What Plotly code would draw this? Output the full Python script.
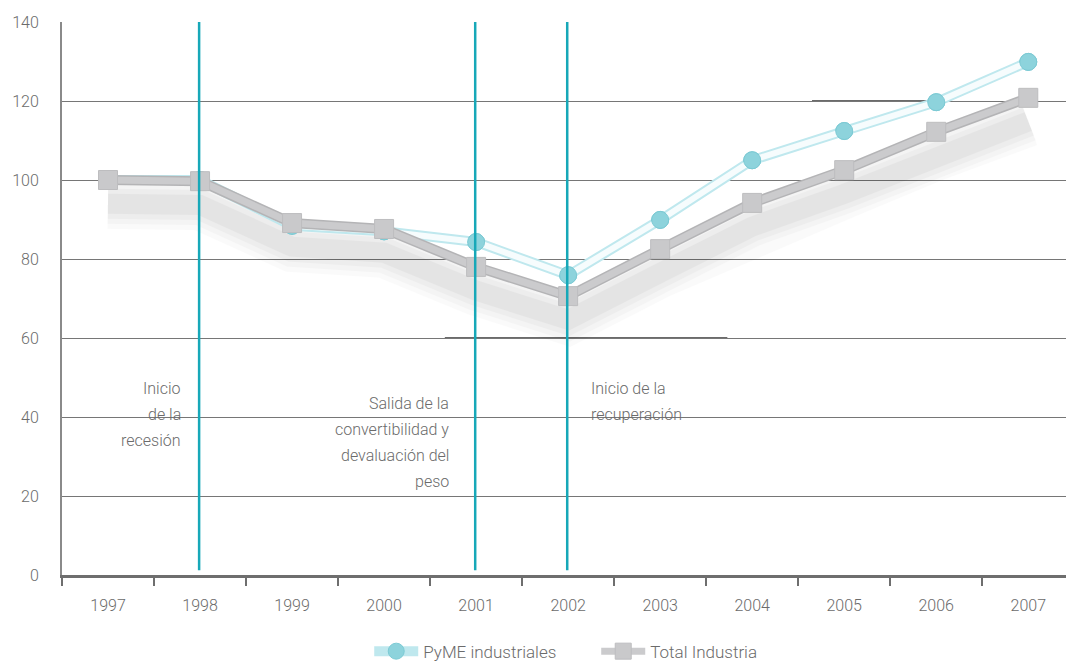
import plotly.graph_objects as go

years = ["1997", "1998", "1999", "2000", "2001", "2002", "2003", "2004", "2005", "2006", "2007"]
pyme = [100, 100, 88.4, 87, 84.3, 75.9, 89.9, 105, 112.4, 119.7, 129.9]
total = [100, 99.7, 89.1, 87.6, 78, 70.6, 82.5, 94.2, 102.5, 112.2, 120.8]

y_ticks = [0, 20, 40, 60, 80, 100, 120, 140]
events = ["1998", "2001", "2002"]

FONT = "Roboto, Arial, sans-serif"
GREY_TXT = "#6b6b6b"
TEAL = "#17a8b8"
PYME_MARK = dict(symbol="circle", size=17, color="#8dd3dc", line=dict(color="#7ccad4", width=1))

fig = go.Figure()

# soft drop shadow under the total-industry line
shadow = [v - 6 for v in total]
for w, op in [(50, 0.015), (40, 0.02), (30, 0.025), (20, 0.03)]:
    fig.add_trace(go.Scatter(
        x=years, y=shadow, mode="lines", line=dict(color="#000000", width=w),
        opacity=op, hoverinfo="skip", showlegend=False))

# PyME industriales: pale cyan tube with a white core and cyan markers
fig.add_trace(go.Scatter(
    x=years, y=pyme, mode="lines+markers", name="PyME industriales",
    line=dict(color="#bfe8ee", width=10), marker=PYME_MARK))
fig.add_trace(go.Scatter(
    x=years, y=pyme, mode="lines", line=dict(color="#f6fcfd", width=6),
    hoverinfo="skip", showlegend=False))
fig.add_trace(go.Scatter(
    x=years, y=pyme, mode="markers", marker=PYME_MARK,
    hoverinfo="skip", showlegend=False))

# Total Industria: grey band with square markers
fig.add_trace(go.Scatter(
    x=years, y=total, mode="lines", line=dict(color="#b4b4b6", width=10),
    hoverinfo="skip", showlegend=False))
fig.add_trace(go.Scatter(
    x=years, y=total, mode="lines+markers", name="Total Industria",
    line=dict(color="#cbcbcd", width=7),
    marker=dict(symbol="square", size=19, color="#c9c9cb",
                line=dict(color="#bdbdbf", width=1))))

# event markers (category index positions)
for ev in events:
    i = years.index(ev)
    fig.add_shape(type="line", xref="x", yref="y", x0=i - 0.01, x1=i - 0.01, y0=1.2, y1=140,
                  line=dict(color=TEAL, width=2.5), layer="above")

# darker grid segments
fig.add_shape(type="line", xref="x", yref="y", x0=7.65, x1=9.05, y0=120, y1=120,
              line=dict(color="#3a3a3a", width=1.5), layer="below")
fig.add_shape(type="line", xref="x", yref="y", x0=3.66, x1=6.73, y0=60, y1=60,
              line=dict(color="#3a3a3a", width=1.5), layer="below")

# event notes, one annotation per line for wider leading
notes = [
    ("1998", 47.3, ["Inicio", "de la", "recesión"], "right", -17),
    ("2001", 43.5, ["Salida de la", "convertibilidad y", "devaluación del", "peso"], "right", -25),
    ("2002", 47.3, ["Inicio de la", "recuperación"], "left", 21),
]
LEADING = 26
for x, y, lines, al, dx in notes:
    for k, line in enumerate(lines):
        fig.add_annotation(x=years.index(x), y=y, xref="x", yref="y", text=line,
                           showarrow=False, xanchor=al, align=al, xshift=dx,
                           yanchor="middle", yshift=-LEADING * k,
                           font=dict(family=FONT, size=16, color=GREY_TXT, weight=300))

fig.update_layout(
    width=1066, height=661,
    margin=dict(l=62, r=0, t=22, b=86, autoexpand=False),
    paper_bgcolor="white", plot_bgcolor="white",
    font=dict(family=FONT, size=16, color=GREY_TXT, weight=300),
    showlegend=True,
    legend=dict(orientation="h", x=0.306, xanchor="left", y=-0.106, yanchor="top",
                font=dict(family=FONT, size=17, color=GREY_TXT, weight=300),
                itemwidth=44, entrywidth=168, entrywidthmode="pixels",
                traceorder="normal"),
    xaxis=dict(type="category", categoryorder="array", categoryarray=years,
               range=[-0.5, 10.41], showgrid=False, zeroline=False,
               showline=True, linecolor="#6e6e6e", linewidth=3,
               ticks="outside", ticklen=8, tickwidth=2, tickcolor="#6e6e6e",
               tickson="boundaries", ticklabelstandoff=14,
               tickfont=dict(family=FONT, size=16, color=GREY_TXT, weight=300)),
    yaxis=dict(range=[0, 140], tickvals=y_ticks, showgrid=True,
               gridcolor="#767676", gridwidth=1, zeroline=False,
               showline=True, linecolor="#8a8a8a", linewidth=2,
               ticklabelstandoff=18,
               tickfont=dict(family=FONT, size=16, color=GREY_TXT, weight=300)),
)

fig.write_html("out.html")
